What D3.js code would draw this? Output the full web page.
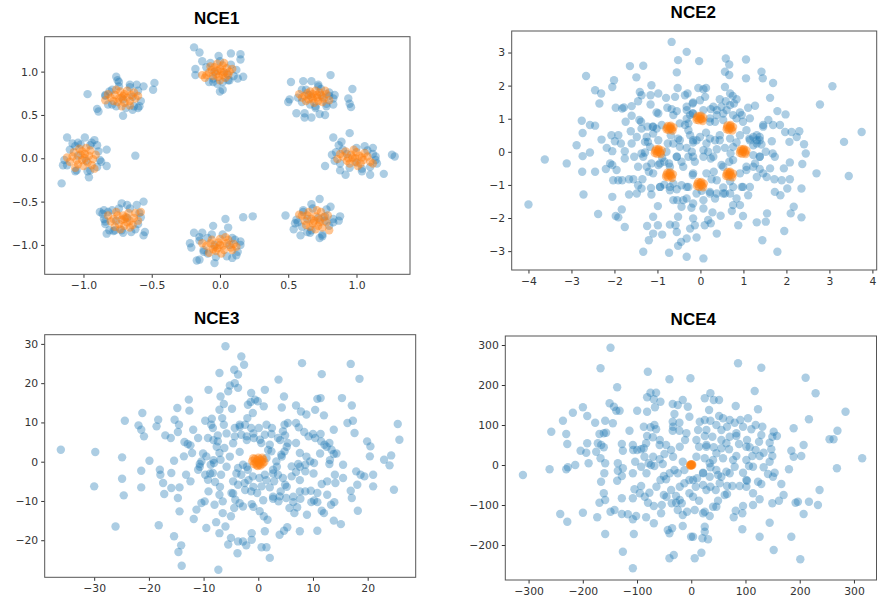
<!DOCTYPE html>
<html>
<head>
<meta charset="utf-8">
<script src="https://cdn.jsdelivr.net/npm/d3@7"></script>
<style>
  html, body { margin: 0; padding: 0; background: #fff; }
  svg { display: block; }
  .tick text { font-family: "DejaVu Sans", sans-serif; font-size: 10.8px; fill: #333; }
  .tick line { stroke: #333; }
  .title { font-family: "Liberation Sans", Arial, sans-serif; font-weight: bold; font-size: 17px; fill: #000; }
</style>
</head>
<body>
<svg id="chart" width="878" height="602"></svg>
<script>
// ---- titles and axis settings ----
const titles = ["NCE1", "NCE2", "NCE3", "NCE4"];

const nce1XLim = [-1.284, 1.392], nce1YLim = [-1.339, 1.403];
const nce2XLim = [-4.39, 4.10],  nce2YLim = [-3.57, 3.65];
const nce3XLim = [-39.05, 28.78], nce3YLim = [-29.44, 32.34];
const nce4XLim = [-342.9, 341.6], nce4YLim = [-287.5, 322.5];

const nce1XTicks = [-1, -0.5, 0, 0.5, 1],  nce1YTicks = [-1, -0.5, 0, 0.5, 1];
const nce2XTicks = [-4, -3, -2, -1, 0, 1, 2, 3, 4], nce2YTicks = [-3, -2, -1, 0, 1, 2, 3];
const nce3XTicks = [-30, -20, -10, 0, 10, 20], nce3YTicks = [-20, -10, 0, 10, 20, 30];
const nce4XTicks = [-300, -200, -100, 0, 100, 200, 300], nce4YTicks = [-200, -100, 0, 100, 200, 300];

// ---- NCE1: eight clusters on the unit circle ----
const nce1Blue = [
  // top cluster
  [-0.19,1.28],[-0.15,1.22],[-0.13,1.12],[-0.18,1.03],[-0.18,0.96],[-0.01,1.18],[0.08,1.21],[0.15,1.2],[0.15,1.14],[0.17,0.94],[0.13,0.92],[0.07,0.9],[0.02,0.79],[0.0,0.77],[-0.05,0.88],[-0.08,0.88],
  [-0.04,1.0],[0.05,0.98],[0.08,1.08],[-0.07,1.1],[0.1,0.95],[0.02,0.88],[-0.02,0.86],[0.12,1.02],[-0.1,1.05],[0.0,1.12],[0.06,0.9],[-0.05,0.92],
  // upper right
  [0.52,0.88],[0.5,0.65],[0.51,0.68],[0.56,0.52],[0.62,0.47],[0.62,0.52],[0.67,0.47],[0.73,0.51],[0.77,0.5],[0.83,0.62],[0.81,0.96],[0.97,0.8],[0.94,0.69],[0.95,0.63],[0.96,0.59],[0.61,0.89],[0.67,0.89],[0.72,0.85],[0.6,0.79],[0.8,0.76],[0.84,0.73],[0.78,0.6],[0.7,0.58],
  [0.63,0.79],[0.74,0.8],[0.8,0.72],[0.6,0.65],[0.66,0.62],[0.78,0.63],[0.7,0.6],[0.57,0.7],[0.83,0.69],[0.72,0.83],[0.65,0.73],[0.75,0.71],
  // right
  [0.83,0.24],[0.89,0.19],[0.95,0.29],[0.77,-0.09],[0.88,-0.14],[0.92,-0.19],[1.04,-0.15],[1.1,-0.19],[1.2,-0.18],[1.26,0.04],[1.28,0.02],[1.15,-0.06],[1.14,0.02],[1.12,0.12],[1.06,0.14],[0.82,0.04],[0.84,-0.03],[0.87,0.15],
  [0.9,0.1],[1.0,0.12],[1.08,0.09],[1.12,0.05],[0.88,-0.06],[0.95,-0.11],[1.04,-0.12],[1.1,-0.1],[0.85,0.07],[1.0,-0.05],[1.14,-0.02],[0.93,0.05],
  // lower right
  [0.48,-0.66],[0.54,-0.82],[0.59,-0.89],[0.73,-0.92],[0.75,-0.9],[0.55,-0.75],[0.56,-0.71],[0.61,-0.6],[0.67,-0.53],[0.73,-0.47],[0.81,-0.56],[0.88,-0.67],[0.87,-0.72],[0.83,-0.74],[0.77,-0.67],[0.64,-0.85],[0.67,-0.83],
  [0.61,-0.62],[0.78,-0.59],[0.83,-0.7],[0.6,-0.79],[0.66,-0.86],[0.75,-0.88],[0.68,-0.58],[0.8,-0.78],[0.57,-0.74],[0.72,-0.69],[0.64,-0.7],[0.77,-0.72],
  // bottom
  [-0.22,-0.98],[-0.21,-1.03],[-0.19,-0.86],[-0.15,-0.91],[-0.13,-0.86],[-0.05,-0.78],[0.04,-0.7],[0.06,-0.8],[0.17,-0.68],[0.24,-0.67],[0.12,-1.12],[0.09,-1.15],[-0.04,-1.21],[-0.15,-1.17],[-0.17,-1.18],[-0.12,-1.08],[0.15,-1.0],[0.11,-0.94],[-0.09,-1.1],
  [-0.09,-0.92],[0.09,-0.92],[0.13,-1.08],[-0.12,-1.06],[0.05,-1.13],[-0.03,-1.14],[-0.15,-0.95],[0.15,-0.96],[0.02,-0.88],[-0.06,-0.88],[0.07,-1.0],[-0.04,-1.0],
  // lower left
  [-0.88,-0.62],[-0.84,-0.73],[-0.83,-0.87],[-0.81,-0.83],[-0.72,-0.52],[-0.68,-0.54],[-0.61,-0.54],[-0.56,-0.5],[-0.59,-0.63],[-0.55,-0.85],[-0.56,-0.89],[-0.65,-0.85],[-0.77,-0.83],[-0.72,-0.83],[-0.79,-0.6],[-0.85,-0.6],[-0.86,-0.64],
  [-0.82,-0.62],[-0.84,-0.76],[-0.78,-0.84],[-0.62,-0.82],[-0.58,-0.68],[-0.66,-0.58],[-0.74,-0.58],[-0.85,-0.7],[-0.71,-0.86],[-0.6,-0.76],[-0.76,-0.72],[-0.68,-0.69],
  // left
  [-1.12,0.24],[-1.08,0.17],[-0.99,0.24],[-0.92,0.21],[-0.9,0.15],[-0.83,0.1],[-0.83,-0.09],[-0.87,-0.04],[-0.96,-0.22],[-1.06,-0.15],[-1.15,-0.08],[-1.14,-0.02],[-1.16,-0.29],[-0.95,-0.14],[-0.62,0.03],[-1.04,0.18],[-0.94,0.18],
  [-1.1,0.1],[-1.06,0.14],[-0.95,0.15],[-0.89,0.08],[-0.88,-0.02],[-0.9,-0.1],[-0.97,-0.15],[-1.05,-0.14],[-1.12,-0.08],[-1.02,0.16],[-0.98,-0.03],[-1.04,0.03],
  // upper left
  [-0.97,0.74],[-0.9,0.57],[-0.89,0.54],[-0.76,0.94],[-0.75,0.9],[-0.66,0.85],[-0.61,0.85],[-0.48,0.87],[-0.49,0.79],[-0.59,0.6],[-0.64,0.56],[-0.71,0.49],[-0.82,0.62],[-0.84,0.73],[-0.79,0.79],[-0.74,0.88],[-0.56,0.83],[-0.6,0.58],
  [-0.81,0.77],[-0.79,0.62],[-0.74,0.83],[-0.66,0.82],[-0.6,0.78],[-0.58,0.66],[-0.63,0.6],[-0.69,0.58],[-0.84,0.72],[-0.76,0.6],[-0.71,0.68],[-0.64,0.71]
];

const nce1Orange = [
  [-0.06,1.02],[-0.03,0.97],[0.0,1.03],[0.03,0.99],[0.05,1.04],[-0.01,0.94],[0.04,0.93],[-0.05,0.95],[0.07,1.0],[-0.08,0.99],[0.02,1.07],[-0.02,1.09],[0.01,1.0],[-0.04,1.05],[0.06,0.96],[0.0,0.9],[0.03,1.1],[-0.1,0.96],[0.09,1.03],[-0.07,1.06],[0.02,0.96],[-0.02,1.01],[-0.13,0.96],[-0.11,0.93],
  [0.62,0.72],[0.65,0.68],[0.68,0.74],[0.71,0.7],[0.74,0.73],[0.66,0.77],[0.72,0.66],[0.76,0.69],[0.63,0.66],[0.7,0.78],[0.78,0.74],[0.6,0.7],[0.67,0.71],[0.73,0.76],[0.69,0.64],[0.8,0.67],[0.64,0.75],[0.75,0.65],[0.71,0.73],[0.68,0.69],[0.58,0.74],[0.77,0.78],
  [0.9,0.02],[0.93,-0.03],[0.96,0.04],[0.99,0.0],[1.02,0.03],[1.05,-0.02],[0.95,-0.06],[1.0,0.07],[1.03,-0.06],[0.88,0.05],[1.08,0.02],[0.97,0.01],[0.92,0.08],[1.06,0.06],[1.01,-0.09],[0.86,-0.01],[1.1,-0.04],[0.94,0.0],[0.99,-0.04],[1.04,0.01],[1.12,-0.06],[0.98,0.1],
  [0.64,-0.66],[0.67,-0.7],[0.7,-0.67],[0.73,-0.71],[0.76,-0.68],[0.68,-0.75],[0.72,-0.78],[0.65,-0.62],[0.74,-0.62],[0.62,-0.72],[0.78,-0.74],[0.7,-0.82],[0.66,-0.79],[0.75,-0.8],[0.79,-0.66],[0.6,-0.66],[0.71,-0.6],[0.69,-0.72],[0.58,-0.65],[0.8,-0.83],[0.73,-0.74],[0.63,-0.77],
  [-0.07,-0.98],[-0.04,-1.02],[-0.01,-0.97],[0.02,-1.01],[0.05,-0.98],[0.08,-1.03],[-0.03,-1.07],[0.03,-1.06],[0.0,-0.93],[-0.06,-0.94],[0.06,-0.94],[0.1,-0.99],[-0.1,-1.01],[0.01,-1.1],[-0.05,-1.05],[0.09,-1.06],[-0.13,-0.98],[0.0,-1.0],[0.04,-0.91],[-0.08,-1.09],[0.12,-1.02],[-0.02,-1.04],
  [-0.78,-0.7],[-0.75,-0.66],[-0.72,-0.71],[-0.69,-0.68],[-0.66,-0.72],[-0.63,-0.69],[-0.74,-0.76],[-0.7,-0.78],[-0.67,-0.63],[-0.62,-0.63],[-0.8,-0.73],[-0.73,-0.82],[-0.64,-0.77],[-0.76,-0.62],[-0.68,-0.74],[-0.6,-0.72],[-0.71,-0.66],[-0.82,-0.66],[-0.66,-0.8],[-0.58,-0.62],[-0.77,-0.79],[-0.7,-0.7],
  [-1.08,0.02],[-1.05,-0.02],[-1.02,0.04],[-0.99,0.0],[-0.96,0.03],[-0.93,-0.01],[-1.04,-0.07],[-1.0,-0.09],[-0.97,-0.05],[-1.01,0.08],[-0.95,0.09],[-1.1,-0.04],[-1.07,0.07],[-0.91,0.04],[-0.98,0.12],[-1.03,0.11],[-0.94,-0.08],[-1.12,0.01],[-0.99,0.05],[-1.06,-0.11],[-0.92,-0.12],[-1.01,-0.02],
  [-0.8,0.7],[-0.77,0.73],[-0.74,0.69],[-0.71,0.72],[-0.68,0.7],[-0.65,0.73],[-0.75,0.65],[-0.7,0.64],[-0.66,0.66],[-0.73,0.77],[-0.68,0.78],[-0.62,0.69],[-0.82,0.74],[-0.78,0.66],[-0.63,0.76],[-0.6,0.72],[-0.72,0.6],[-0.7,0.74],[-0.76,0.79],[-0.66,0.61],[-0.84,0.67],[-0.72,0.7]
];

// ---- NCE2 ----
const nce2Blue = [
  [-0.67,3.32],[-0.32,3.02],[-0.52,2.77],[-1.64,2.59],[-1.33,2.6],[-0.55,2.4],[-1.49,2.25],[-2.66,2.29],[-2.01,2.16],[-2.05,1.96],[-2.45,1.86],[-2.31,1.76],[-2.35,1.46],[-1.14,2.01],[-1.41,1.81],[-1.37,1.71],[-1.16,1.71],[-0.98,1.76],[-0.8,1.63],[-0.59,1.66],[-0.53,1.93],[-0.36,1.71],[-0.3,1.76],[-0.18,1.46],[-0.32,1.36],
  [-1.97,1.33],[-1.82,1.31],[-1.78,1.34],[-1.6,1.38],[-1.45,1.53],[-1.16,1.43],[-1.02,1.19],[-0.77,1.33],[-0.67,1.29],[-0.55,1.23],[-1.6,1.09],[-1.42,0.96],[-1.38,0.91],[-1.74,0.91],[-2.76,0.94],[-2.57,0.81],[-2.45,0.79],[-2.74,0.57],[-2.3,0.37],[-2.07,0.5],[-1.91,0.5],[-1.99,0.32],[-1.62,0.62],[-1.37,0.7],[-1.23,0.76],[-1.11,0.76],[-1.02,0.7],[-0.9,0.81],[-0.36,0.81],[-0.32,1.0],[-0.24,1.11],
  [-1.29,0.3],[-1.22,0.3],[-1.48,0.45],[-2.88,0.2],[-2.18,0.12],[-2.05,0.02],[-1.85,0.25],[-1.76,0.02],[-1.6,0.25],[-1.37,-0.05],[-1.29,-0.02],[-1.54,-0.15],[-1.76,-0.2],[-2.57,-0.02],[-2.74,-0.13],[-3.62,-0.23],[-3.11,-0.35],[-2.75,-0.6],[-2.45,-0.6],[-2.2,-0.52],[-2.1,-0.35],[-2.05,-0.4],[-1.95,-0.55],
  [-2.03,-0.86],[-1.91,-0.86],[-1.82,-0.86],[-1.66,-0.83],[-1.56,-0.83],[-1.35,-0.83],[-1.45,-0.45],[-1.2,-0.6],[-1.14,-0.35],[-0.98,-0.4],[-0.89,-0.18],[-0.84,-0.3],[-0.73,-0.35],[-0.79,0.0],[-0.76,0.25],[-0.69,0.5],[-0.52,0.4],[-0.48,0.15],[-0.32,0.12],[-0.28,-0.15],[-0.44,-0.3],[-0.55,-0.15],[-0.24,0.5],[-0.17,0.28],
  [-1.45,-1.01],[-1.37,-1.11],[-1.15,-1.09],[-0.94,-1.06],[-0.84,-0.99],[-0.71,-1.06],[-0.55,-1.13],[-0.44,-1.01],[-0.32,-1.06],[-1.66,-1.29],[-1.48,-1.26],[-1.14,-1.29],[-2.72,-1.29],[-2.05,-1.36],[-0.99,-1.64],[-0.54,-1.46],[-0.44,-1.66],[-0.32,-1.41],[-0.21,-1.69],[-1.83,-1.74],[-1.97,-1.94],[-1.91,-1.98],[-2.38,-1.88],[-4.0,-1.59],
  [-1.76,-2.27],[-1.24,-2.24],[-1.1,-1.96],[-0.99,-2.22],[-0.89,-2.5],[-1.1,-2.47],[-1.2,-2.67],[-0.71,-2.2],[-0.58,-2.22],[-0.52,-1.96],[-0.55,-2.42],[-0.45,-2.72],[-0.52,-2.84],[-0.32,-2.62],[-0.24,-2.32],[-1.33,-3.02],[-0.73,-3.05],[-0.32,-3.17],
  [-0.03,2.74],[0.59,2.82],[0.67,2.64],[1.06,2.79],[0.57,2.42],[0.67,2.32],[1.06,2.22],[1.42,2.42],[1.45,2.22],[1.69,2.08],[3.07,1.98],[2.78,1.43],[3.75,0.6],[3.34,0.3],[3.45,-0.73],[2.7,-0.65],[1.62,1.63],[1.79,1.23],[1.98,1.13],[1.85,0.81],[1.97,0.6],[2.12,0.6],[2.3,0.62],[2.24,0.45],[2.41,0.23],[2.45,-0.05],[2.07,0.3],
  [1.46,0.81],[1.31,0.5],[1.66,0.32],[1.73,-0.15],[1.94,-0.5],[2.08,-0.32],[2.37,-0.37],[2.08,-0.83],[2.35,-1.11],[2.17,-1.66],[2.35,-1.98],[2.1,-1.86],[2.02,-1.11],[1.86,-1.31],[1.72,-0.83],[1.73,-1.21],[1.55,-1.86],[1.52,-2.11],[1.95,-2.39],[1.44,-2.67],[1.79,-3.02],[1.31,-2.13],[0.99,-1.94],[0.88,-2.22],[0.73,-1.79],[0.47,-1.93],[0.28,-1.83],[0.24,-2.16],[0.38,-2.47],[0.1,-2.22],[0.07,-3.22],[-0.09,-2.59],[0.07,-1.71],
  [1.11,-1.31],[1.15,-1.06],[1.31,-0.76],[1.46,-0.65],[1.54,-0.76],[1.23,-0.45],[1.38,-0.52],[1.07,-0.55],[0.84,-1.41],[0.92,-1.61],[0.76,-1.61],[0.57,-1.26],[0.34,-1.41],[0.22,-1.21],[-0.09,-1.26],[0.03,-1.18],[0.53,-1.08],[0.38,-0.86],[0.31,-0.6],[0.49,-0.4],[0.24,-0.2],[0.07,-0.15],[-0.13,-0.3],[-0.2,0.0],[0.18,0.0],[0.38,0.08],[0.57,0.12],[0.7,-0.05],[0.67,-0.3],
  [-0.17,0.35],[-0.01,0.45],[0.13,0.58],[0.22,0.4],[0.34,0.35],[0.45,0.5],[0.69,0.4],[0.84,0.28],[0.92,0.5],[1.14,0.4],[1.23,0.2],[1.38,-0.15],[1.52,0.0],[1.68,-0.05],[1.23,-0.1],[1.31,0.35],[1.42,0.22],[1.38,0.45],[1.07,0.65],[0.99,0.91],[1.15,1.01],[1.27,1.39],[1.11,1.33],[0.92,1.19],[0.84,1.01],[0.78,1.46],[0.69,1.76],[0.75,1.69],[0.84,1.59],[0.59,1.53],[0.45,1.59],[0.49,1.36],[0.38,1.26],[0.53,1.16],[0.24,1.29],[0.11,1.66],[0.07,1.89],[-0.05,1.93],[0.13,1.93],[0.57,1.96],[-0.17,1.49],[-0.18,1.16],[0.22,0.91],[0.34,0.91],[0.69,1.41],[1.58,0.96],[1.69,0.81],[1.89,-0.86],[1.62,-0.5],[0.99,-1.06],[0.69,-0.89],[0.26,-0.83],[-0.18,-0.7],[-0.17,-2.01],[-0.13,-2.22],[0.18,-2.06],
  [-0.63,0.25],[-0.28,0.65],[-0.09,0.35],[-0.17,-0.15],[0.14,0.25],[0.3,-0.15],[0.45,0.35],[0.53,-0.45],[-0.71,-0.45],[-0.4,-0.45],[-0.17,-0.65],[0.14,-0.65],[-0.63,-0.96],[-0.28,-1.06],[0.22,-1.26],[0.53,-1.26],[-0.32,1.26],[-0.01,1.56],[0.3,1.36],[0.61,1.26],[-0.55,-0.15],[-0.48,0.35],[0.07,0.05],[0.76,0.15],[0.76,-0.25],[-0.98,0.35],[-0.94,-0.35],[-1.1,0.76],
  [-0.98,1.16],[-0.63,1.11],[-0.48,0.86],[-0.28,0.86],[-0.17,1.16],[0.07,1.26],[0.22,1.01],[0.38,1.11],[0.53,0.96],[0.76,1.11],[0.96,1.11],[1.15,0.35],[1.23,0.45],[1.31,0.25],[1.38,0.35],[1.46,0.76],[1.38,-0.15],[1.27,-0.35],[1.07,-0.45],[0.92,-0.65],[0.96,-1.06],[0.76,-1.06],[0.69,-1.26],[0.38,-1.26],[0.07,-1.46],[-0.17,-1.56],[-0.4,-1.46],[-0.63,-1.46],[-0.71,-1.16],[-0.94,-1.06],[-1.1,-0.65],[-1.25,-0.45],[-1.33,-0.15],[-1.17,0.15],[-1.25,0.45],[-1.1,0.55]
];

const nce2Orange = [
  [-0.78,0.73],[-0.74,0.66],[-0.71,0.76],[-0.67,0.69],[-0.63,0.74],[-0.76,0.78],[-0.65,0.64],[-0.69,0.79],[-0.79,0.68],[-0.7,0.7],
  [-0.08,1.03],[-0.04,0.95],[-0.01,1.06],[0.03,0.98],[0.07,1.03],[-0.06,1.08],[0.05,0.93],[0.01,1.09],[-0.09,0.97],[0.0,1.0],
  [0.62,0.74],[0.66,0.66],[0.69,0.78],[0.72,0.7],[0.76,0.75],[0.63,0.8],[0.74,0.64],[0.7,0.81],[0.61,0.68],[0.68,0.72],
  [0.93,0.03],[0.97,-0.06],[1.0,0.06],[1.04,-0.02],[1.07,0.04],[0.95,0.08],[1.05,-0.07],[1.01,0.09],[0.92,-0.04],[0.99,0.0],
  [0.61,-0.67],[0.65,-0.75],[0.68,-0.63],[0.72,-0.71],[0.76,-0.66],[0.63,-0.61],[0.74,-0.77],[0.69,-0.6],[0.6,-0.73],[0.67,-0.69],
  [-0.07,-0.97],[-0.03,-1.06],[0.0,-0.94],[0.04,-1.02],[0.08,-0.96],[-0.05,-0.91],[0.06,-1.07],[0.02,-0.91],[-0.08,-1.03],[0.01,-1.0],
  [-0.79,-0.69],[-0.75,-0.77],[-0.72,-0.65],[-0.68,-0.73],[-0.64,-0.68],[-0.77,-0.63],[-0.66,-0.79],[-0.7,-0.62],[-0.8,-0.75],[-0.71,-0.71],
  [-1.05,0.03],[-1.01,-0.06],[-0.98,0.06],[-0.94,-0.02],[-0.9,0.04],[-1.03,0.08],[-0.92,-0.07],[-0.97,0.09],[-1.06,-0.04],[-0.99,0.0]
];

// ---- NCE3 ----
const nce3Blue = [
  [-36.1,3.06],[-29.8,2.46],[-30.0,-6.28],[-26.1,-16.5],[-24.9,1.1],[-24.9,-4.33],[-24.6,-8.57],[-24.4,10.44],[-21.9,9.25],[-21.4,8.15],[-20.9,6.45],[-21.2,12.39],[-21.4,-2.29],[-21.4,-6.54],[-19.9,0.25],[-18.6,9.0],[-18.3,10.7],[-18.0,-2.04],[-17.9,-3.31],[-18.2,-16.2],
  [-17.4,-5.43],[-17.2,-8.23],[-17.0,6.7],[-16.0,6.03],[-15.9,-2.89],[-15.9,-6.71],[-15.4,0.25],[-15.3,10.7],[-14.8,13.67],[-14.7,-9.25],[-14.5,9.42],[-14.7,7.56],[-14.4,-12.65],[-15.4,-19.0],[-14.1,-21.3],[-14.6,-23.0],[-14.0,-26.5],[-14.4,-6.54],
  [-12.7,15.8],[-12.6,13.0],[-13.5,5.0],[-12.9,4.5],[-12.4,4.16],[-13.6,1.36],[-13.2,-3.31],[-12.4,-5.0],[-12.1,2.2],[-11.9,8.15],[-11.8,-14.6],[-11.3,-12.2],[-11.0,-2.04],[-10.7,-0.59],[-10.4,0.08],[-11.0,6.03],[-10.4,-10.5],[-9.8,-10.1],[-9.5,-16.9],
  [-9.7,10.44],[-9.1,18.3],[-9.2,6.03],[-9.5,1.36],[-9.7,-3.31],[-9.2,-4.58],[-8.7,-0.76],[-9.1,-7.56],[-8.6,9.42],[-8.5,10.95],[-8.3,8.57],[-8.0,-10.95],[-7.7,-15.4],[-7.4,6.7],[-7.4,5.18],[-7.1,13.24],[-7.1,22.6],[-6.9,16.6],[-6.6,11.1],[-6.3,9.42],[-6.2,3.48],
  [-7.1,2.2],[-6.9,0.5],[-8.1,-0.34],[-8.3,-2.89],[-7.9,-5.18],[-6.8,-3.31],[-7.1,-8.4],[-6.5,-10.1],[-6.5,-13.1],[-6.0,-16.5],[-5.5,-21.1],[-7.3,-27.5],[-7.1,-18.2],[-6.3,14.7],[-6.0,29.4],[-5.5,17.9],
  [-3.1,26.8],[-2.6,24.7],[-4.4,23.4],[-3.7,22.2],[-4.3,20.0],[-3.7,18.8],[-5.2,19.4],[-1.3,17.5],[-1.4,15.2],[-0.6,15.8],[1.2,18.3],[1.0,14.1],[-0.1,15.4],[-1.9,14.5],[-1.0,12.4],[-2.0,11.1],[-4.8,13.5],[-4.3,8.57],[-3.4,9.42],[-2.4,9.42],[-1.3,8.57],[0.1,8.57],[1.5,9.42],[2.5,8.57],
  [3.7,20.9],[8.0,25.1],[11.6,22.3],[16.9,24.9],[18.5,21.1],[4.7,16.6],[4.3,13.8],[6.9,14.3],[7.8,12.8],[8.8,12.0],[10.4,13.2],[10.8,16.0],[11.4,16.2],[12.0,11.8],[15.3,16.2],[17.1,14.3],[16.3,9.85],[17.3,10.44],[17.6,7.3],[25.5,9.6],[25.8,5.6],
  [19.9,5.18],[20.5,3.9],[20.4,1.36],[23.0,0.5],[24.3,1.6],[24.0,-0.93],[24.8,-7.13],[21.0,-3.31],[19.4,-3.74],[21.0,-6.28],[18.2,-12.5],[18.1,-5.86],[17.9,-2.46],[18.7,-3.31],[16.9,-7.39],[17.1,-9.25],[15.5,-4.16],[15.5,-0.76],[15.1,-15.9],
  [13.3,-10.95],[13.9,-10.3],[13.8,-15.0],[12.0,-13.1],[10.8,-17.6],[11.6,-12.5],[10.8,-10.3],[10.2,-9.9],[9.7,-10.3],[8.9,-13.5],[8.6,-7.56],[9.6,-7.39],[10.8,-7.98],[12.6,-8.4],[12.6,-5.0],[11.6,-5.69],[14.1,-5.43],[14.0,-3.31],[13.0,-0.59],[13.4,3.06],[13.8,1.95],[13.0,4.75],[12.1,4.33],[11.5,5.18],[11.4,7.05],[13.8,8.15],
  [10.4,6.03],[10.0,7.05],[9.2,6.45],[8.4,7.56],[7.4,8.74],[6.9,9.85],[5.4,9.85],[4.8,9.42],[4.5,7.73],[4.9,6.7],[3.6,6.03],[2.4,7.05],[1.2,6.88],[0.3,5.6],[-0.8,6.03],[-2.1,6.45],[-3.1,6.88],[-4.3,6.45],[0.55,4.75],[5.4,4.75],[6.9,4.75],[7.6,2.2],[7.3,-0.59],[8.6,-0.76],[9.5,0.08],[10.2,-0.34],[8.6,-2.46],
  [6.9,-2.63],[6.1,-1.19],[6.1,-3.74],[4.5,-4.16],[3.6,-3.31],[2.9,-5.0],[2.7,-2.04],[3.3,0.08],[4.2,1.78],[4.8,2.63],[2.4,2.63],[2.1,4.33],[1.5,0.93],[-2.8,-0.76],[-3.7,-1.61],[-3.1,-3.31],[-1.9,-2.04],[-1.0,-3.74],[0.2,-4.16],[1.2,-3.31],[2.1,-6.54],[0.6,-6.28],[-0.2,-7.98],[-1.3,-7.56],[-2.5,-5.43],[-3.7,-5.86],[-4.6,-5.0],[-4.9,-7.98],[-4.2,-9.68],
  [-2.8,-11.4],[-1.2,-10.8],[0.25,-12.6],[1.0,-13.9],[1.7,-14.8],[2.7,-9.42],[3.7,-10.1],[3.9,-8.83],[5.1,-9.25],[5.7,-11.8],[6.4,-10.3],[7.1,-11.6],[6.6,-13.1],[7.7,-9.42],[7.6,-7.56],[4.9,-5.86],[4.1,-7.56],[5.3,-16.7],[4.7,-17.6],[3.9,-18.6],[7.6,-17.7],[1.2,-17.7],[-1.2,-18.2],[-2.8,-20.3],[-3.7,-20.3],[-2.2,-21.3],[-1.2,-19.9],[0.6,-21.8],[1.5,-21.8],[2.1,-24.5],[-3.8,-23.3],[-5.0,-19.4],[-5.0,-13.9],[-4.4,-11.8],
  [-4.6,4.7],[-3.4,2.5],[-5.2,1.3],[-2.1,-1.3],[-4.0,-3.0],[-5.8,-1.3],[-1.8,-4.7],[-2.4,-7.2],[-0.9,-6.4],[1.5,-4.7],[2.7,-3.0],[3.4,-1.3],[4.3,1.3],[5.2,3.8],[4.0,5.5],[1.8,3.0],[2.7,-8.9],[0.9,-9.8],[5.2,-6.4],[6.4,-8.9],[7.6,-4.7],[7.6,-1.3],[8.8,1.3],[10.1,-3.0],[11.3,2.1],[12.5,3.8],[13.1,0.4],[14.3,2.1],
  [-7.6,3.8],[-8.2,0.4],[-8.8,-3.0],[-10.7,-1.3],[-10.1,2.1],[-7.0,-6.4],[-4.6,-8.1],[-3.4,-10.6],[-0.9,-11.5],[-8.2,5.5],[-5.8,7.2],[-3.4,8.9],[-0.9,7.2],[-2.1,5.5]
];

const nce3Orange = [
  [-1.1,0.2],[-0.8,-0.6],[-0.6,0.7],[-0.3,-0.9],[-0.2,0.3],[0.0,1.0],[0.1,-0.3],[0.3,0.6],[0.4,-1.0],[0.6,0.1],[0.8,-0.5],[0.9,0.6],[1.1,-0.1],[-0.5,-0.2],[0.2,-0.7],[-0.9,0.9],[0.7,1.0],[-0.1,-1.1]
];

// ---- NCE4 ----
const nce4Blue = [
  [-148.9,293.3],[-167.3,241.7],[-80.1,233.3],[-40.2,214.2],[-1.5,216.7],[-136.6,194.2],[-218.3,130.8],[-199.8,144.2],[-236.6,110.8],[-191.8,122.5],[-258.1,83.3],[-230.5,77.5],[-228.6,52.5],[-204.1,35.8],[-193.6,30.8],[-213.9,0],[-227.5,-5.8],[-230.5,-10.8],[-261.2,-10.8],[-310.4,-25],
  [-189.3,4.2],[-191.8,54.2],[-177.2,105.8],[-172.3,54.2],[-169.3,77.5],[-161.3,79.2],[-157,80.8],[-166,50],[-161.3,44.2],[-175.3,33.3],[-167.3,16.7],[-158.7,4.2],[-160.3,-20.8],[-166.3,-41.7],[-161.3,-70.8],[-169.3,-94.2],[-158.7,-87.5],[-148.9,-116.7],[-141.5,-112.5],[-128,-83.3],[-128,-122.5],[-116.9,-123.3],[-107.7,-135.8],[-101.6,-127.5],[-83.2,-130.8],[-69,-145.8],
  [-173.4,-130.8],[-199.8,-119.2],[-241.6,-122.5],[-228.6,-141.7],[-158.7,-172.5],[-105.9,-172.5],[-126.1,-216.7],[-107.7,-258.3],[-40.2,-233.3],[-32.2,-225],[-150.6,154.2],[-142.6,145.8],[-138.3,135.8],[-132.1,135.8],[-144.6,104.2],[-158.7,110.8],[-113.9,85.8],[-128,52.5],[-126.1,35.8],[-135.4,4.2],[-135.4,-14.2],[-136.6,-39.2],[-128,-27.5],[-126.1,-8.3],
  [-107.7,50],[-99.7,135.8],[-99.7,37.5],[-103.4,8.3],[-107.7,-20.8],[-92.4,-52.5],[-107.7,-83.3],[-104.7,-60.8],[-87.5,41.7],[-83.2,54.2],[-92.4,39.2],[-81.4,133.3],[-81.4,169.2],[-75.2,180.8],[-64.8,180.8],[-69.1,164.2],[-56.8,158.3],[-66.9,144.2],[-87.5,95.8],[-75.2,94.2],[-67.9,100],[-64.8,89.2],[-81.4,72.5],[-70.9,69.2],
  [-86.3,20.8],[-78.6,4.2],[-74.3,0],[-67.9,-2.5],[-92.4,-4.2],[-52.5,2.5],[-58.3,14.2],[-58.3,50],[-46.3,50],[-49.4,27.5],[-37.1,37.5],[-50.6,-27.5],[-56.8,-37.5],[-46.3,-35.8],[-31,-12.5],[-24.9,-20.8],[-77.1,-69.2],[-85.7,-79.2],[-79.8,-94.2],[-69,-102.5],[-54.3,-100],[-55.6,-120.8],[-50.6,-75],[-37.1,-62.5],[-36,-95.8],[-28,-77.5],[-28,-94.2],[-17.5,-95.8],[-24.9,-112.5],
  [-15.7,-152.5],[-43.3,-162.5],[-40.2,-170.8],[-35.3,-158.3],[-0.3,-179.2],[-31,127.5],[-34.2,152.5],[-24.9,150],[-15.7,162.5],[-6.4,145.8],[-34.2,108.3],[-21.8,85.8],[-21.8,105.8],[-34.2,85.8],[-11.4,62.5],[-3.4,120.8],[-15.7,8.3],[-12.6,-12.5],[-3.4,-37.5],[-12.6,-45.8],[-3.4,-70.8],[-7.7,-116.7],[-15.7,-125],
  [86.3,254.2],[129.2,243.3],[210.9,218.3],[229.3,179.2],[117,185],[284.5,133.3],[123.1,139.2],[82,147.5],[24.9,166.7],[35.3,179.2],[51.3,162.5],[41.4,162.5],[32.9,137.5],[217,114.2],[188.8,91.7],[207.2,50],[184.5,35.8],[188.8,20.8],[202.9,22.5],[255,64.2],[262.4,64.2],[269.6,85.8],[315.2,16.7],[268.6,-8.3],[180.2,-10.8],
  [236.6,-62.5],[217,-91.7],[233.6,-100],[192.4,-94.2],[196.7,-91.7],[207.2,-122.5],[184.5,-179.2],[201.1,-235.8],[152,-212.5],[144.6,-144.2],[126.1,-179.2],[94.2,-160.8],[149.5,-95.8],[161.8,-89.2],[170.3,-75],[166.1,-47.5],[150.7,-29.2],[153.8,-19.2],[141.5,-22.5],[133.5,-5.8],[144.6,8.3],[149.5,22.5],[147.6,39.2],[158,72.5],[149.5,70.8],[144.6,55.8],[152,83.3],
  [131.1,95.8],[129.2,75],[125,58.3],[133.5,30.8],[126.1,22.5],[118.8,37.5],[112.6,22.5],[107.7,44.2],[102.8,62.5],[110.8,89.2],[104.7,116.7],[118.8,100],[95.5,95.8],[90.5,112.5],[80.1,105.8],[70.9,112.5],[58.6,116.7],[51.3,122.5],[66,95.8],[55.6,87.5],[46.3,100],[35.3,110.8],[24.9,112.5],[15.7,108.3],[12.6,87.5],[27.9,87.5],[39,70.8],[24.9,72.5],
  [55.6,62.5],[70.9,70.8],[83.2,72.5],[88.1,52.5],[69.7,39.2],[55.6,41.7],[41.4,44.2],[27.9,50],[14.4,45.8],[9.5,20.8],[24.9,16.7],[40.2,12.5],[58.6,16.7],[83.2,22.5],[101.6,12.5],[106.5,-2.5],[95.5,-19.2],[80.1,-4.2],[64.8,-16.7],[46.3,-12.5],[35.3,-5.8],[21.8,-19.2],[34.1,-29.2],[49.4,-25],[55.6,-29.2],[10.7,-33.3],[21.8,-50],[8.3,-54.2],[35.3,-54.2],[45.1,-62.5],
  [66,-52.5],[75.8,-52.5],[89.3,-52.5],[101.6,-54.2],[102.8,-39.2],[123.1,-41.7],[129.2,-47.5],[113.9,-70.8],[126.1,-85.8],[113.9,-100],[95.5,-102.5],[94.2,-120.8],[82,-114.2],[78.3,-130.8],[66,-72.5],[61.7,-75],[49.4,-89.2],[40.2,-104.2],[34.1,-127.5],[24.9,-116.7],[14.4,-89.2],[6.4,-112.5],[24.9,-154.2],[20.6,-183.3],[31,-185.8],[24.9,-166.7],[3.4,-179.2],[6.4,-233.3],[18.7,-219.2],
  [-33.5,20.8],[-21.2,45.8],[-39.6,-20.8],[-21.2,-54.2],[3.4,-37.5],[21.8,-20.8],[34.1,4.2],[46.3,29.2],[27.9,45.8],[9.5,62.5],[-8.9,79.2],[-33.5,95.8],[-58,62.5],[-70.3,20.8],[-82.6,-20.8],[-64.2,-54.2],[-45.7,-79.2],[-21.2,-87.5],[3.4,-79.2],[27.9,-62.5],[52.5,-45.8],[70.9,-20.8],[77.1,12.5],[64.8,54.2],[83.2,79.2],[101.6,45.8],[113.9,-4.2],[101.6,-37.5],[46.3,-104.2],[21.8,-120.8],[-94.9,-70.8],[-107.1,37.5]
];

const nce4Orange = [
  [-2,1],[1,-1],[0,2],[-1,-2],[2,0],[0,0],[-2,-1],[1,2]
];

// ---- layout of the four axes ----
const panels = [
  { title: titles[0], tx: 216.7, ty: 24,   box: [44.7, 410,   36.7, 274.3], xLim: nce1XLim, yLim: nce1YLim, xTicks: nce1XTicks, yTicks: nce1YTicks, fmt: d3.format(".1f"), blue: nce1Blue, orange: nce1Orange },
  { title: titles[1], tx: 693.3, ty: 18.3, box: [511.7, 876.7, 31,  270],  xLim: nce2XLim, yLim: nce2YLim, xTicks: nce2XTicks, yTicks: nce2YTicks, fmt: d3.format("d"),   blue: nce2Blue, orange: nce2Orange },
  { title: titles[2], tx: 216.7, ty: 324,  box: [44.7, 415.7, 334.7, 577.3], xLim: nce3XLim, yLim: nce3YLim, xTicks: nce3XTicks, yTicks: nce3YTicks, fmt: d3.format("d"), blue: nce3Blue, orange: nce3Orange },
  { title: titles[3], tx: 693.3, ty: 325,  box: [505.3, 876.5, 336, 580],  xLim: nce4XLim, yLim: nce4YLim, xTicks: nce4XTicks, yTicks: nce4YTicks, fmt: d3.format("d"),   blue: nce4Blue, orange: nce4Orange }
];

const svg = d3.select("#chart");
const blueColor = "#1f77b4", orangeColor = "#ff7f0e";
const markerR = 4.2, blueAlpha = 0.37, orangeAlpha = 0.45;

panels.forEach((p, i) => {
  const [x0, x1, y0, y1] = p.box;
  const x = d3.scaleLinear().domain(p.xLim).range([x0, x1]);
  const y = d3.scaleLinear().domain(p.yLim).range([y1, y0]);

  const clipId = "clip" + i;
  svg.append("clipPath").attr("id", clipId)
    .append("rect").attr("x", x0).attr("y", y0).attr("width", x1 - x0).attr("height", y1 - y0);

  const g = svg.append("g").attr("clip-path", `url(#${clipId})`);
  g.selectAll("circle.b").data(p.blue).join("circle")
    .attr("class", "b")
    .attr("cx", d => x(d[0])).attr("cy", d => y(d[1])).attr("r", markerR)
    .attr("fill", blueColor).attr("fill-opacity", blueAlpha);
  g.selectAll("circle.o").data(p.orange).join("circle")
    .attr("class", "o")
    .attr("cx", d => x(d[0])).attr("cy", d => y(d[1])).attr("r", markerR)
    .attr("fill", orangeColor).attr("fill-opacity", orangeAlpha);

  const xAxis = svg.append("g").attr("transform", `translate(0,${y1})`)
    .call(d3.axisBottom(x).tickValues(p.xTicks).tickFormat(p.fmt).tickSize(3.5).tickPadding(3.5));
  xAxis.select(".domain").remove();
  const yAxis = svg.append("g").attr("transform", `translate(${x0},0)`)
    .call(d3.axisLeft(y).tickValues(p.yTicks).tickFormat(p.fmt).tickSize(3.5).tickPadding(3));
  yAxis.select(".domain").remove();
  svg.selectAll(".tick text").attr("font-family", null).attr("font-size", null);

  svg.append("rect")
    .attr("x", x0).attr("y", y0).attr("width", x1 - x0).attr("height", y1 - y0)
    .attr("fill", "none").attr("stroke", "#555").attr("stroke-width", 1);

  svg.append("text").attr("class", "title")
    .attr("x", p.tx).attr("y", p.ty).attr("text-anchor", "middle")
    .text(p.title);
});
</script>
</body>
</html>
